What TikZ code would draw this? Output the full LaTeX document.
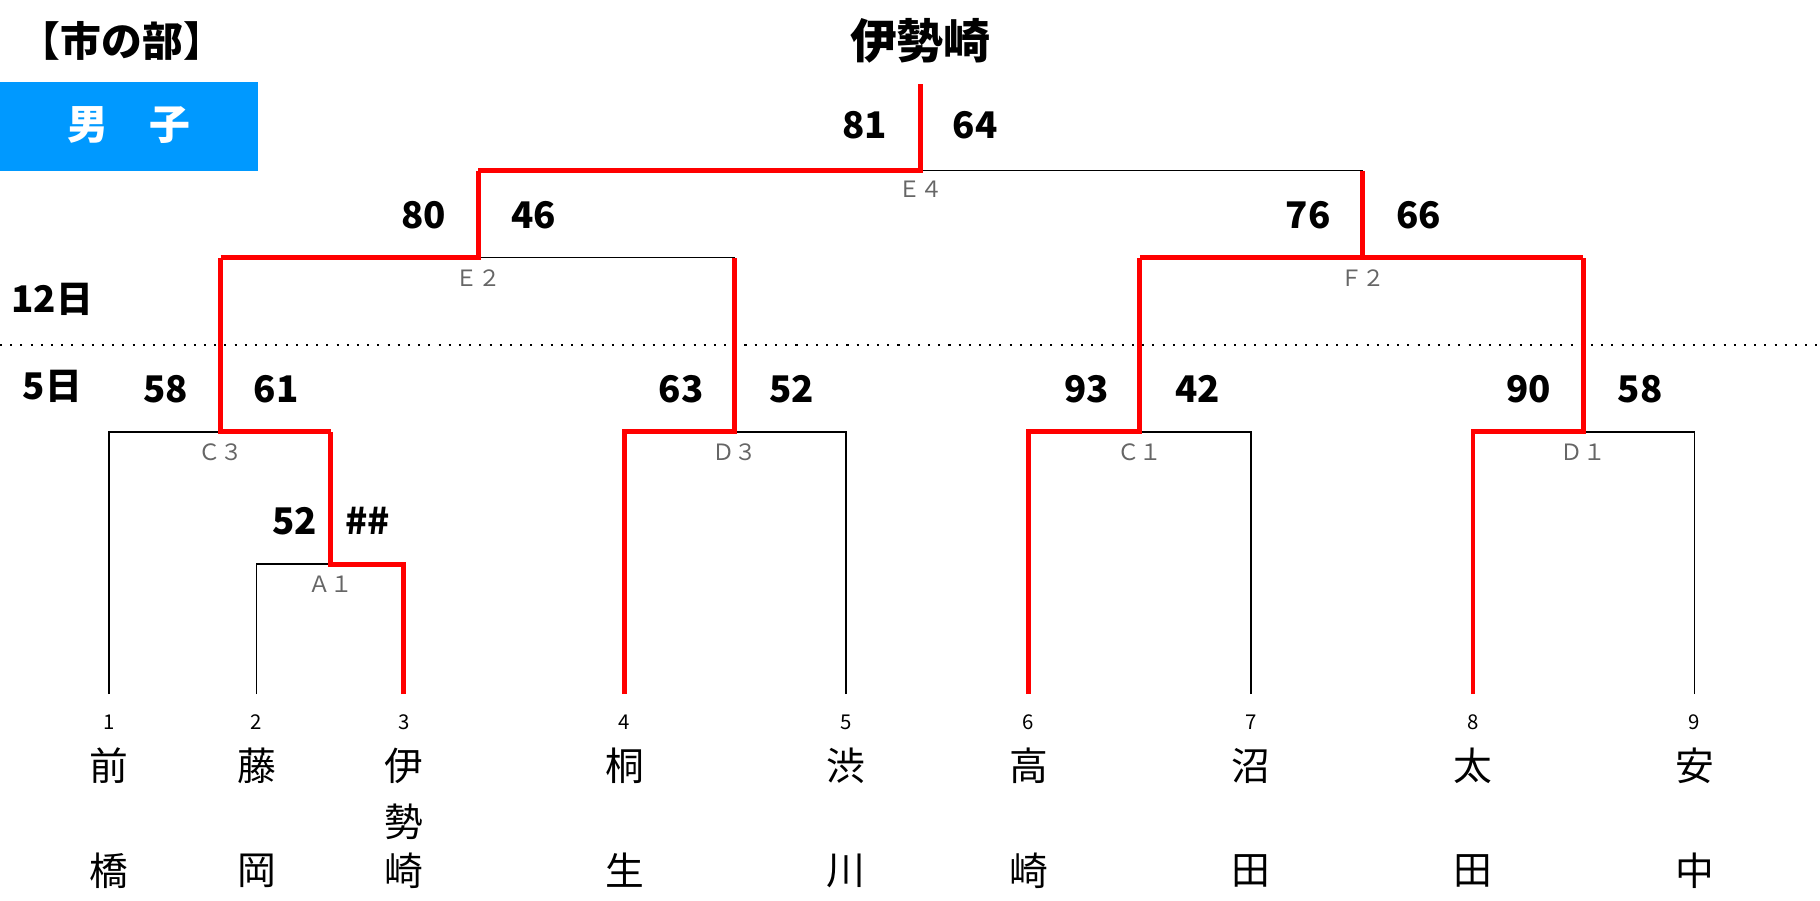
\documentclass[tikz,border=0pt]{standalone}
\usepackage{fontspec}
\setmainfont{Noto Sans CJK JP}
\usetikzlibrary{positioning}
\definecolor{boxblue}{HTML}{0099FF}
\tikzset{
  win/.style={draw=red, line width=1.2pt},
  lose/.style={draw=black, line width=0.4pt},
  score/.style={font=\bfseries\fontsize{9}{10}\selectfont},
  game/.style={font=\fontsize{5.5}{6}\selectfont, text=gray!80!black},
  seed/.style={font=\fontsize{5}{6}\selectfont},
  team/.style={font=\fontsize{9.5}{11}\selectfont}
}
\begin{document}
\begin{tikzpicture}[x=0.1mm, y=-0.1mm]
  \useasboundingbox (0,0) rectangle (1568,776);

  % 見出し
  \node[font=\bfseries\fontsize{10}{12}\selectfont] (bu) at (105,35) {【市の部】};
  \node[font=\bfseries\fontsize{11.5}{13}\selectfont] (champ) at (793,35) {伊勢崎};
  \fill[boxblue] (0,71) rectangle (222,147);
  \node[text=white, font=\bfseries\fontsize{10}{12}\selectfont] (sex) at (111,108) {男\quad 子};

  % 日付
  \draw[dotted, line width=0.5pt] (0,297) -- (1568,297);
  \node[score] (d12) at (45,258) {12日};
  \node[score] (d5) at (45,333) {5日};

  % 出場校
  \foreach \i/\x/\a/\b in {1/94/前/橋, 2/221/藤/岡, 3/348/伊/崎, 4/538/桐/生, 5/729/渋/川,
                           6/886/高/崎, 7/1078/沼/田, 8/1269/太/田, 9/1460/安/中} {
    \coordinate (t\i) at (\x,598);
    \node[seed] (n\i) at (\x,622) {\i};
    \node[team] (a\i) at (\x,660) {\a};
    \node[team] (b\i) at (\x,750) {\b};
  }
  \node[team] (m3) at (348,708) {勢};

  % 1回戦
  \draw[lose] (t2) |- (285,486);
  \draw[win] (t3) |- (285,486) -- (285,372);
  \node[game] (A1) at (285,503) {Ａ１};
  \node[score] at (254,449) {52};
  \node[score] at (317,449) {\#\#};

  % 2回戦
  \draw[lose] (t1) |- (285,372);
  \draw[win] (285,372) -| (190,222);
  \node[game] (C3) at (190,390) {Ｃ３};
  \node[score] at (143,335) {58};
  \node[score] at (238,335) {61};

  \draw[lose] (t5) |- (633,372);
  \draw[win] (t4) |- (633,372) -- (633,222);
  \node[game] (D3) at (633,390) {Ｄ３};
  \node[score] at (587,335) {63};
  \node[score] at (682,335) {52};

  \draw[lose] (t7) |- (982,372);
  \draw[win] (t6) |- (982,372) -- (982,222);
  \node[game] (C1) at (982,390) {Ｃ１};
  \node[score] at (936,335) {93};
  \node[score] at (1032,335) {42};

  \draw[lose] (t9) |- (1364,372);
  \draw[win] (t8) |- (1364,372) -- (1364,222);
  \node[game] (D1) at (1364,390) {Ｄ１};
  \node[score] at (1317,335) {90};
  \node[score] at (1413,335) {58};

  % 準決勝
  \draw[lose] (412,222) -- (633,222);
  \draw[win] (190,222) -- (412,222) -- (412,147);
  \node[game] (E2) at (412,240) {Ｅ２};
  \node[score] at (365,185) {80};
  \node[score] at (460,185) {46};

  \draw[win] (982,222) -- (1364,222);
  \draw[win] (1174,222) -- (1174,147);
  \node[game] (F2) at (1174,240) {Ｆ２};
  \node[score] at (1127,185) {76};
  \node[score] at (1222,185) {66};

  % 決勝
  \draw[lose] (793,147) -- (1174,147);
  \draw[win] (412,147) -- (793,147) -- (793,72);
  \node[game] (E4) at (793,163) {Ｅ４};
  \node[score] at (745,108) {81};
  \node[score] at (840,108) {64};
\end{tikzpicture}
\end{document}
